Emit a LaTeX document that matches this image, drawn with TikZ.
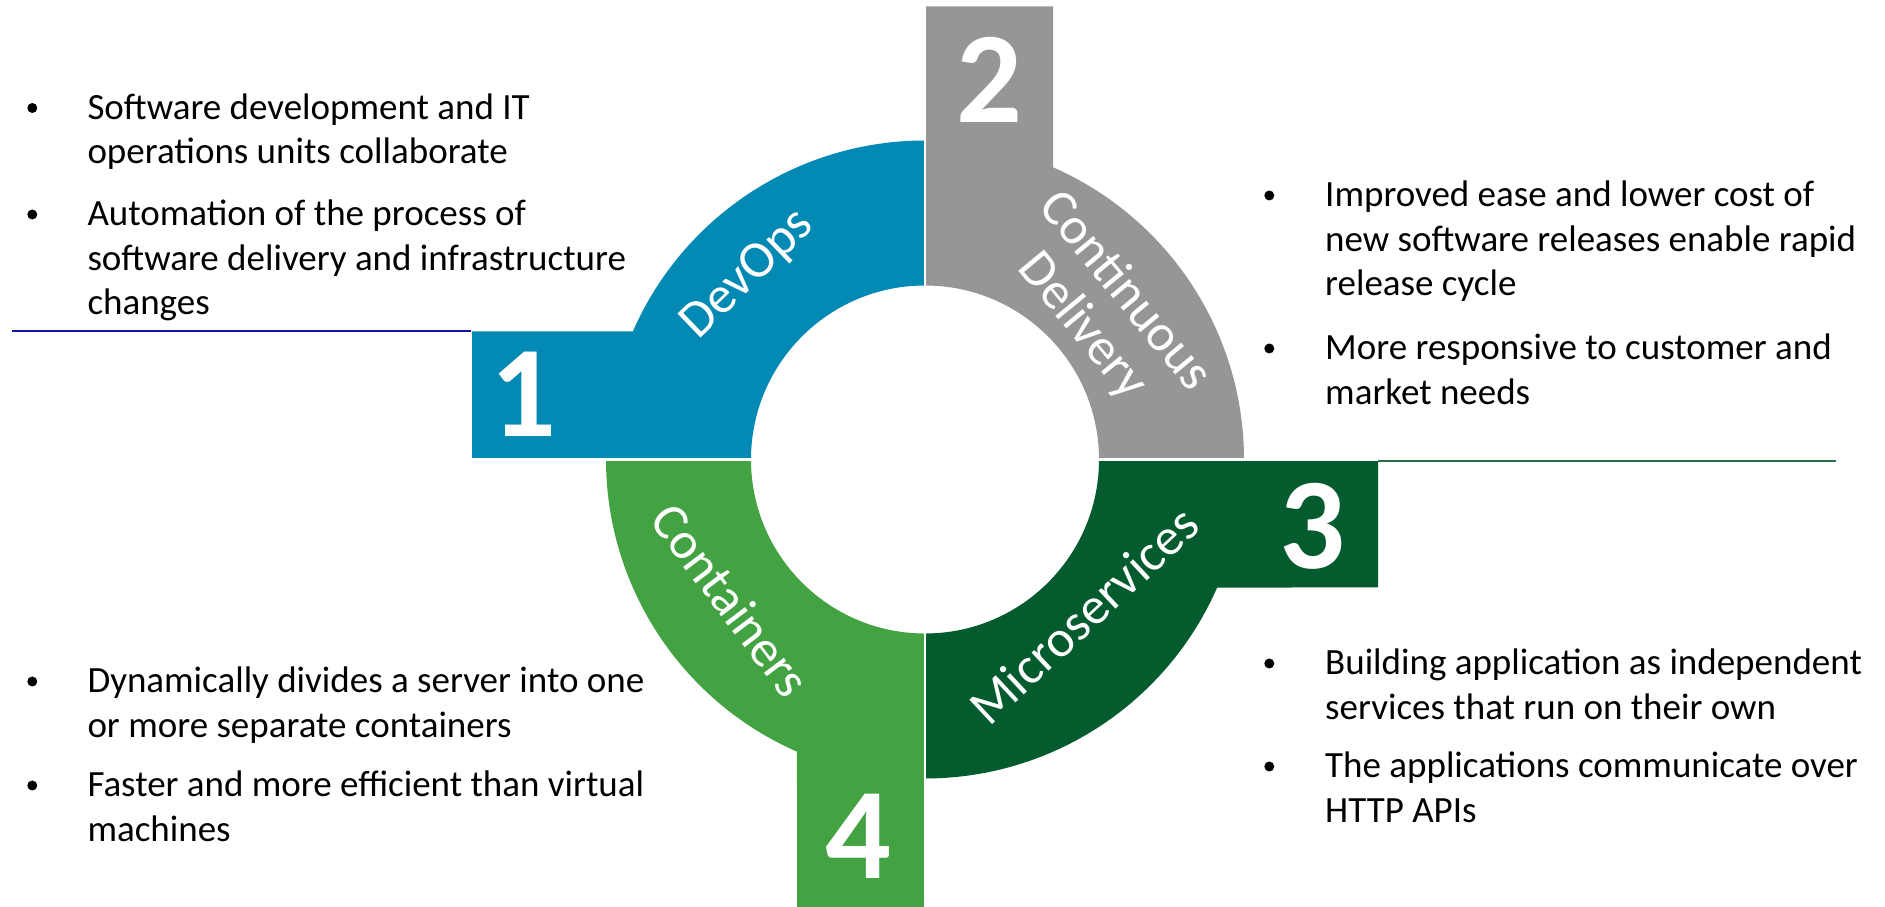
\documentclass[tikz,border=0pt]{standalone}
\usepackage{fontspec}
\setmainfont{Carlito}
\usetikzlibrary{calc}
\definecolor{devblue}{RGB}{2,137,180}
\definecolor{cdgray}{RGB}{150,150,150}
\definecolor{msgreen}{RGB}{3,91,46}
\definecolor{ctgreen}{RGB}{67,163,67}
\definecolor{lineblue}{RGB}{20,20,165}
\definecolor{linegreen}{RGB}{40,110,70}
\begin{document}
\begin{tikzpicture}[x=1pt,y=1pt,
  bullettext/.style={anchor=base west, inner sep=0pt, font=\fontsize{37}{44.5}\selectfont, text=black},
  bulletdot/.style={circle, fill=black, inner sep=0pt, minimum size=10pt},
  numlabel/.style={font=\fontsize{130}{130}\selectfont\bfseries, text=white, inner sep=0pt},
  ringlabel/.style={font=\fontsize{52}{55}\selectfont, text=white, inner sep=0pt, align=center},
  sepline/.style={white, line width=2.5pt},
  rule/.style={line width=2pt}]
\useasboundingbox (0,0) rectangle (1885,907);
\coordinate (C) at (925,447.5);
% quadrant 1 (DevOps)
\fill[devblue] (472,447.5) -- (472,575.5) -- ($(C)+(156.34:319)$)
  arc[start angle=156.34,end angle=90,radius=319] -- ($(C)+(0,174)$)
  arc[start angle=90,end angle=180,radius=174] -- cycle;
% quadrant 2 (Continuous Delivery)
\fill[cdgray] (925,900.5) -- (1053,900.5) -- ($(C)+(66.34:319)$)
  arc[start angle=66.34,end angle=0,radius=319] -- ($(C)+(174,0)$)
  arc[start angle=0,end angle=90,radius=174] -- cycle;
% quadrant 3 (Microservices)
\fill[msgreen] (1378,447.5) -- (1378,319.5) -- ($(C)+(-23.66:319)$)
  arc[start angle=-23.66,end angle=-90,radius=319] -- ($(C)+(0,-174)$)
  arc[start angle=-90,end angle=0,radius=174] -- cycle;
% quadrant 4 (Containers)
\fill[ctgreen] (925,-5.5) -- (797,-5.5) -- ($(C)+(246.34:319)$)
  arc[start angle=246.34,end angle=180,radius=319] -- ($(C)+(-174,0)$)
  arc[start angle=180,end angle=270,radius=174] -- cycle;
% separators
\draw[sepline] ($(C)+(-460,0)$) -- ($(C)+(460,0)$);
\draw[sepline, line width=2pt] ($(C)+(0,-460)$) -- ($(C)+(0,460)$);
% rules
\coordinate (blA) at (12,575.5);
\coordinate (blB) at (471,575.5);
\draw[rule, lineblue] (blA) -- (blB);
\coordinate (grA) at (1378,446);
\coordinate (grB) at (1836,446);
\draw[rule, linegreen] (grA) -- (grB);
% numbers
\node[numlabel] (n1) at (523.5,512.5) {1};
\node[numlabel] (n2) at (989.5,826.7) {2};
\node[numlabel] (n3) at (1312.7,380.3) {3};
\node[numlabel] (n4) at (858.3,70.3) {4};
% ring labels
\node[ringlabel, rotate=44] (lab1) at (748,632) {DevOps};
\node[ringlabel, rotate=-50.5] (lab2) at (1103.6,598) {Continuous\\Delivery};
\node[ringlabel, rotate=43] (lab3) at (1084,292) {Microservices};
\node[ringlabel, rotate=-53] (lab4) at (731,307) {Containers};
% left top
\node[bulletdot] (b1) at (32.3,799) {};
\node[bullettext] (t1a) at (87.3,787.5) {Software development and IT};
\node[bullettext] (t1b) at (87.3,743) {operations units collaborate};
\node[bulletdot] (b2) at (32.3,692.5) {};
\node[bullettext] (t2a) at (87.3,681) {Automation of the process of};
\node[bullettext] (t2b) at (87.3,636.5) {software delivery and infrastructure};
\node[bullettext] (t2c) at (87.3,592) {changes};
% right top
\node[bulletdot] (b3) at (1269.3,711.5) {};
\node[bullettext] (t3a) at (1325,700) {Improved ease and lower cost of};
\node[bullettext] (t3b) at (1325,655.5) {new software releases enable rapid};
\node[bullettext] (t3c) at (1325,611) {release cycle};
\node[bulletdot] (b4) at (1269.3,558.5) {};
\node[bullettext] (t4a) at (1325,547) {More responsive to customer and};
\node[bullettext] (t4b) at (1325,502.5) {market needs};
% left bottom
\node[bulletdot] (b5) at (32.3,225.5) {};
\node[bullettext] (t5a) at (87.3,214) {Dynamically divides a server into one};
\node[bullettext] (t5b) at (87.3,169.5) {or more separate containers};
\node[bulletdot] (b6) at (32.3,121.5) {};
\node[bullettext] (t6a) at (87.3,110) {Faster and more efficient than virtual};
\node[bullettext] (t6b) at (87.3,65.5) {machines};
% right bottom
\node[bulletdot] (b7) at (1269.3,243.5) {};
\node[bullettext] (t7a) at (1325,232) {Building application as independent};
\node[bullettext] (t7b) at (1325,187.5) {services that run on their own};
\node[bulletdot] (b8) at (1269.3,140.5) {};
\node[bullettext] (t8a) at (1325,129) {The applications communicate over};
\node[bullettext] (t8b) at (1325,84.5) {HTTP APIs};
\end{tikzpicture}
\end{document}
